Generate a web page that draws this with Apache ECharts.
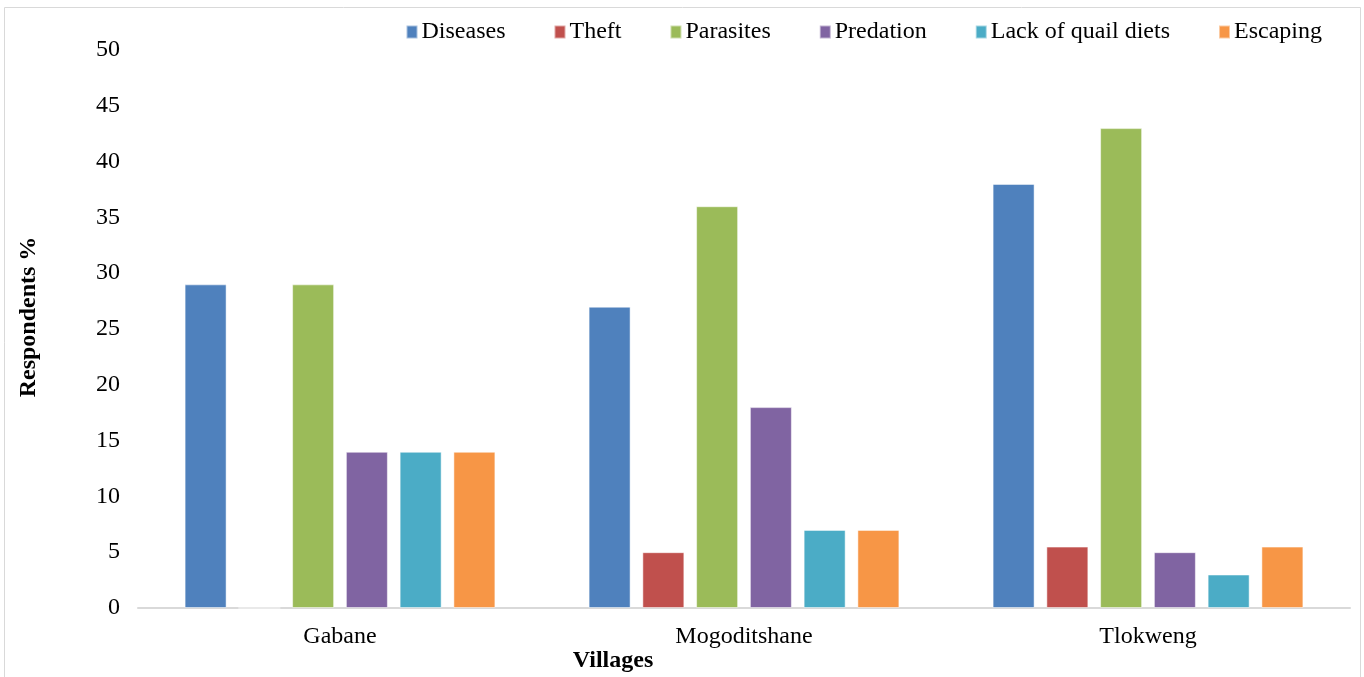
<!DOCTYPE html>
<html><head><meta charset="utf-8">
<script src="https://cdn.jsdelivr.net/npm/echarts@6/dist/echarts.min.js"></script>
<style>html,body{margin:0;padding:0;background:#fff}#c{width:1364px;height:677px}</style>
</head><body><div id="c"></div>
<script>
const categories = ['Gabane', 'Mogoditshane', 'Tlokweng'];
const seriesNames = ['Diseases', 'Theft', 'Parasites', 'Predation', 'Lack of quail diets', 'Escaping'];
const diseases = [29, 27, 38];
const theft = [0, 5, 5.5];
const parasites = [29, 36, 43];
const predation = [14, 18, 5];
const lackOfQuailDiets = [14, 7, 3];
const escaping = [14, 7, 5.5];
const colors = ['#4F81BD', '#C0504D', '#9BBB59', '#8064A2', '#4BACC6', '#F79646'];
const valuesList = [diseases, theft, parasites, predation, lackOfQuailDiets, escaping];
const font = '"Liberation Serif", "Times New Roman", serif';

const chart = echarts.init(document.getElementById('c'));
chart.setOption({
  animation: false,
  color: colors,
  textStyle: { fontFamily: font },
  legend: {
    top: 15, right: 37, itemWidth: 11, itemHeight: 13, itemGap: 48,
    icon: 'rect',
    textStyle: { fontFamily: font, fontSize: 24, color: '#000', padding: [0, 0, 0, -1] },
    data: seriesNames
  },
  grid: { left: 138, right: 14, top: 50, bottom: 69, containLabel: false },
  xAxis: {
    type: 'category', data: categories,
    axisLine: { lineStyle: { color: '#d9d9d9', width: 2 } },
    axisTick: { show: false },
    axisLabel: { fontFamily: font, fontSize: 24, color: '#000', margin: 17 }
  },
  yAxis: {
    type: 'value', min: 0, max: 50, interval: 5,
    axisLine: { show: false }, axisTick: { show: false },
    splitLine: { show: false },
    axisLabel: { fontFamily: font, fontSize: 24, color: '#000', margin: 18 }
  },
  series: seriesNames.map((n, i) => ({
    name: n, type: 'bar', data: valuesList[i],
    barWidth: 42, barGap: '28%',
    itemStyle: { borderColor: 'rgba(255,255,255,0.5)', borderWidth: 1 }
  })),
  graphic: [
    { type: 'rect', shape: { x: 4.5, y: 7.5, width: 1356, height: 700 },
      style: { fill: 'none', stroke: '#d9d9d9', lineWidth: 1 }, silent: true },
    { type: 'text', x: 613, y: 661,
      style: { text: 'Villages', font: 'bold 24px ' + font, fill: '#000', align: 'center', verticalAlign: 'middle' } },
    { type: 'text', x: 29, y: 317, rotation: Math.PI / 2,
      style: { text: 'Respondents %', font: 'bold 24px ' + font, fill: '#000', align: 'center', verticalAlign: 'middle' } }
  ]
});
</script></body></html>
